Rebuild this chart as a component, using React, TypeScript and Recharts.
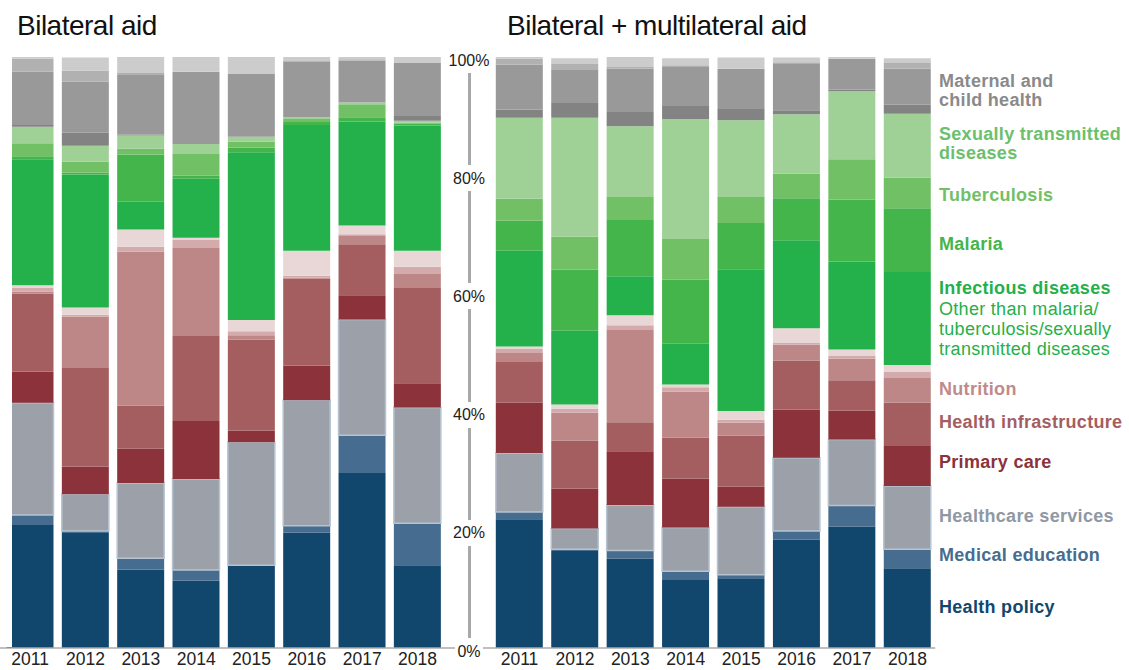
import React from 'react';
import { BarChart, Bar, XAxis, YAxis } from 'recharts';

const years = ['2011', '2012', '2013', '2014', '2015', '2016', '2017', '2018'];
const pctTicks = [0, 20, 40, 60, 80, 100];

// Bilateral aid (% of total)
const biHealthPolicy = [20.8, 19.6, 13.3, 11.4, 13.9, 19.5, 29.6, 14.0];
const biMedicalEducation = [1.7, 0.2, 1.9, 1.8, 0.1, 1.2, 6.4, 7.1];
const biHealthcareServices = [19.0, 6.2, 12.7, 15.4, 20.8, 21.2, 19.6, 19.6];
const biPrimaryCare = [5.3, 4.7, 5.8, 9.8, 2.0, 5.9, 4.1, 4.1];
const biHealthInfrastructure = [13.2, 16.8, 7.3, 14.4, 15.4, 14.7, 8.6, 16.1];
const biNutrition = [0.3, 8.6, 26.1, 14.9, 0.7, 0.2, 1.4, 2.4];
const biOtherPinkA = [0.6, 0.3, 0.8, 1.4, 0.7, 0.3, 0.3, 1.2];
const biOtherPinkB = [0.5, 1.2, 2.9, 0.3, 1.9, 4.2, 1.5, 2.7];
const biInfectious = [21.3, 22.5, 4.7, 10.0, 28.4, 21.3, 17.6, 21.2];
const biMalaria = [0.5, 0.3, 8.0, 0.5, 0.8, 0.5, 0.7, 0.3];
const biTuberculosis = [2.2, 1.9, 1.0, 3.7, 1.0, 0.5, 2.2, 0.2];
const biSTD = [2.8, 2.7, 2.2, 1.7, 0.8, 0.3, 0.3, 0.3];
const biGrayDark = [0.3, 2.2, 0.2, 0, 0, 0, 0, 0.8];
const biMaternal = [9.0, 8.6, 10.2, 12.2, 10.7, 9.5, 7.1, 9.0];
const biGrayLight = [2.2, 1.9, 0.2, 0, 0, 0, 0.2, 0];
const biGrayLighter = [0.5, 2.2, 3.0, 2.7, 2.9, 0.8, 0.5, 1.0];

// Bilateral + multilateral aid
const allHealthPolicy = [21.8, 16.4, 15.1, 11.5, 11.8, 18.3, 20.5, 13.5];
const allMedicalEducation = [1.2, 0.3, 1.4, 1.5, 0.6, 1.5, 3.6, 3.2];
const allHealthcareServices = [10.0, 3.5, 7.7, 7.4, 11.5, 12.4, 11.2, 10.7];
const allPrimaryCare = [8.5, 6.8, 9.1, 8.3, 3.4, 8.1, 4.9, 6.8];
const allHealthInfrastructure = [6.9, 8.1, 4.9, 6.9, 8.6, 8.3, 5.1, 7.3];
const allNutrition = [1.5, 4.7, 15.6, 7.8, 2.2, 2.7, 3.7, 4.2];
const allOtherPinkA = [0.7, 0.7, 0.8, 0.7, 0.5, 0.3, 0.5, 1.0];
const allOtherPinkB = [0.4, 0.7, 1.7, 0.5, 1.5, 2.5, 1.0, 1.2];
const allInfectious = [16.2, 12.5, 6.6, 6.9, 24.0, 14.9, 14.9, 15.7];
const allMalaria = [5.1, 10.3, 9.5, 10.8, 7.8, 7.1, 10.5, 10.8];
const allTuberculosis = [3.7, 5.6, 3.9, 6.9, 4.4, 4.2, 6.8, 5.2];
const allSTD = [13.7, 20.1, 12.0, 20.3, 13.0, 10.0, 11.5, 10.8];
const allGrayDark = [1.4, 2.5, 2.4, 2.2, 1.9, 0.7, 0.3, 1.5];
const allMaternal = [7.6, 5.6, 7.3, 6.6, 6.8, 7.8, 5.2, 6.1];
const allGrayLight = [1.0, 1.0, 0.3, 0.3, 0, 0.3, 0, 1.0];
const allGrayLighter = [0.3, 1.0, 1.7, 1.2, 1.9, 0.8, 0.5, 0.8];

type SeriesDef = { key: string; fill: string; stroke?: string };
const seriesDefs: SeriesDef[] = [
  { key: 'healthPolicy', fill: '#11466d' },
  { key: 'medicalEducation', fill: '#466d8f' },
  { key: 'healthcareServices', fill: '#9ca0a8', stroke: '#b6c4d2' },
  { key: 'primaryCare', fill: '#8c323a' },
  { key: 'healthInfrastructure', fill: '#a55e60' },
  { key: 'nutrition', fill: '#bd8687' },
  { key: 'otherPinkA', fill: '#d4abac' },
  { key: 'otherPinkB', fill: '#e9d7d7' },
  { key: 'infectious', fill: '#24b04a' },
  { key: 'malaria', fill: '#43b54b' },
  { key: 'tuberculosis', fill: '#72c066' },
  { key: 'std', fill: '#9fd197' },
  { key: 'grayDark', fill: '#838383' },
  { key: 'maternal', fill: '#999999' },
  { key: 'grayLight', fill: '#b1b1b1' },
  { key: 'grayLighter', fill: '#cccccc' },
];

const buildRows = (cols: Record<string, number[]>) =>
  years.map((year, i) => {
    const row: Record<string, any> = { year };
    Object.keys(cols).forEach((k) => {
      row[k] = cols[k][i];
    });
    return row;
  });

const bilateralData = buildRows({
  healthPolicy: biHealthPolicy,
  medicalEducation: biMedicalEducation,
  healthcareServices: biHealthcareServices,
  primaryCare: biPrimaryCare,
  healthInfrastructure: biHealthInfrastructure,
  nutrition: biNutrition,
  otherPinkA: biOtherPinkA,
  otherPinkB: biOtherPinkB,
  infectious: biInfectious,
  malaria: biMalaria,
  tuberculosis: biTuberculosis,
  std: biSTD,
  grayDark: biGrayDark,
  maternal: biMaternal,
  grayLight: biGrayLight,
  grayLighter: biGrayLighter,
});

const totalData = buildRows({
  healthPolicy: allHealthPolicy,
  medicalEducation: allMedicalEducation,
  healthcareServices: allHealthcareServices,
  primaryCare: allPrimaryCare,
  healthInfrastructure: allHealthInfrastructure,
  nutrition: allNutrition,
  otherPinkA: allOtherPinkA,
  otherPinkB: allOtherPinkB,
  infectious: allInfectious,
  malaria: allMalaria,
  tuberculosis: allTuberculosis,
  std: allSTD,
  grayDark: allGrayDark,
  maternal: allMaternal,
  grayLight: allGrayLight,
  grayLighter: allGrayLighter,
});

const FONT = '"Liberation Sans", Arial, Helvetica, sans-serif';

const CHART_H = 670;
const PLOT_TOP = 57;
const XAXIS_H = 22;
const PLOT_H = CHART_H - PLOT_TOP - XAXIS_H;
const LABEL_SHIFT = 3;
const AXIS_X = 469;

const PctTick = (props: any) => {
  const { x, y, payload } = props;
  const label = `${payload.value}%`;
  const w = label.length * 9 + 10;
  const cy = y + LABEL_SHIFT;
  return (
    <g>
      <rect x={x - w / 2} y={cy - 12} width={w} height={24} fill="#ffffff" />
      <text x={x} y={cy} dy="0.35em" textAnchor="middle" fontSize={16} fill="#222" fontFamily={FONT}>
        {label}
      </text>
    </g>
  );
};

// gray rule segments of the percentage axis, drawn between the labels
const tickCenterY = (v: number) => PLOT_TOP + (1 - v / 100) * PLOT_H + LABEL_SHIFT;
const ruleSegments = [...pctTicks]
  .sort((a, b) => b - a)
  .slice(0, -1)
  .map((v, i, arr) => {
    const next = [...pctTicks].sort((a, b) => b - a)[i + 1];
    return { top: tickCenterY(v) + 13, bottom: tickCenterY(next) - 13 };
  });

const xTick = { fontSize: 17.5, fill: '#222', fontFamily: FONT };

const renderBars = () =>
  seriesDefs.map((s) => (
    <Bar
      key={s.key}
      dataKey={s.key}
      stackId="a"
      fill={s.fill}
      stroke={s.stroke || 'none'}
      strokeWidth={s.stroke ? 1.5 : 0}
      isAnimationActive={false}
      barSize={47}
    />
  ));

type LegendItem = { lines: string[]; color: string; top: number; weight?: number; lineHeight?: number };
const legendItems: LegendItem[] = [
  { lines: ['Maternal and', 'child health'], color: '#8a8a8a', top: 72 },
  { lines: ['Sexually transmitted', 'diseases'], color: '#6cc06b', top: 124.5 },
  { lines: ['Tuberculosis'], color: '#72c066', top: 185.5 },
  { lines: ['Malaria'], color: '#43b54b', top: 234.5 },
  { lines: ['Infectious diseases'], color: '#24b04a', top: 279 },
  { lines: ['Other than malaria/', 'tuberculosis/sexually', 'transmitted diseases'], color: '#24b04a', top: 298.5, weight: 500, lineHeight: 20 },
  { lines: ['Nutrition'], color: '#c08a8b', top: 380 },
  { lines: ['Health infrastructure'], color: '#a55e60', top: 413 },
  { lines: ['Primary care'], color: '#8c323a', top: 453 },
  { lines: ['Healthcare services'], color: '#8f98a3', top: 507 },
  { lines: ['Medical education'], color: '#466d8f', top: 546 },
  { lines: ['Health policy'], color: '#11466d', top: 598 },
];

export default function App() {
  return (
    <div
      style={{
        position: 'absolute',
        left: 0,
        top: 0,
        width: 1129,
        height: 670,
        background: '#fff',
        overflow: 'hidden',
        fontFamily: FONT,
      }}
    >
      <div style={{ position: 'absolute', left: 17, top: 12, fontSize: 28, lineHeight: '28px', letterSpacing: -0.5, color: '#111' }}>
        Bilateral aid
      </div>
      <div style={{ position: 'absolute', left: 507, top: 12, fontSize: 28, lineHeight: '28px', letterSpacing: -0.5, color: '#111' }}>
        Bilateral + multilateral aid
      </div>

      <div style={{ position: 'absolute', left: 0, top: 0 }}>
        <BarChart width={470} height={CHART_H} data={bilateralData} margin={{ top: PLOT_TOP, right: 1, bottom: 0, left: 0 }}>
          <YAxis hide domain={[0, 100]} allowDataOverflow type="number" />
          <XAxis
            dataKey="year"
            height={XAXIS_H}
            padding={{ left: 2.5, right: 23.8 }}
            tickLine={false}
            tickSize={0}
            tickMargin={5}
            axisLine={{ stroke: '#aaaaaa', strokeWidth: 1.5 }}
            tick={xTick}
            interval={0}
          />
          {renderBars()}
        </BarChart>
      </div>

      {/* crop of the reference at the left edge */}
      <div style={{ position: 'absolute', left: 0, top: 50, width: 12, height: 597, background: '#fff' }} />
      <div style={{ position: 'absolute', left: 0, top: 651, width: 12, height: 19, background: '#fff' }} />

      <div style={{ position: 'absolute', left: 440, top: 0 }}>
        <BarChart width={500} height={CHART_H} data={totalData} margin={{ top: PLOT_TOP, right: 4.8, bottom: 0, left: 28 }}>
          <XAxis
            dataKey="year"
            height={XAXIS_H}
            padding={{ left: 22.8, right: 0 }}
            tickLine={false}
            tickSize={0}
            tickMargin={5}
            axisLine={{ stroke: '#aaaaaa', strokeWidth: 1.5 }}
            tick={xTick}
            interval={0}
          />
          <YAxis
            type="number"
            domain={[0, 100]}
            allowDataOverflow
            ticks={pctTicks}
            width={1}
            tickLine={false}
            tickSize={0}
            tickMargin={0}
            axisLine={false}
            tick={PctTick}
            interval={0}
          />
          {renderBars()}
        </BarChart>
      </div>

      {ruleSegments.map((s, i) => (
        <div
          key={`rule-${i}`}
          style={{
            position: 'absolute',
            left: AXIS_X - 1,
            top: s.top,
            width: 3,
            height: s.bottom - s.top,
            background: '#a8a8a8',
            zIndex: 10,
          }}
        />
      ))}

      {legendItems.map((it, i) => (
        <div
          key={i}
          style={{
            position: 'absolute',
            left: 939,
            top: it.top,
            fontSize: 18,
            lineHeight: `${it.lineHeight || 19}px`,
            fontWeight: it.weight || 700,
            color: it.color,
            letterSpacing: 0.3,
            whiteSpace: 'nowrap',
          }}
        >
          {it.lines.map((l, j) => (
            <div key={j}>{l}</div>
          ))}
        </div>
      ))}
    </div>
  );
}
